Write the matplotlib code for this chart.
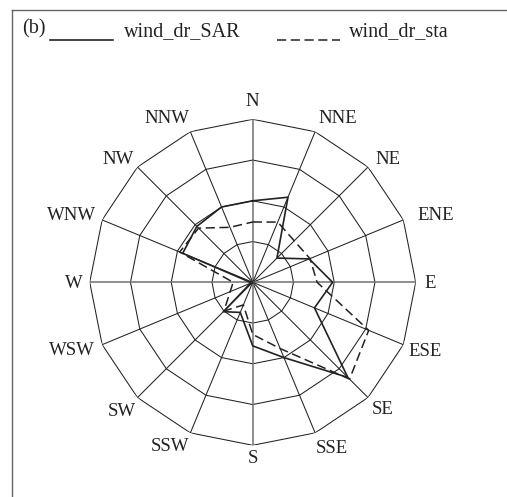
"""wind direction radar plot (b)"""

import numpy as np
import matplotlib
matplotlib.use("Agg")
import matplotlib.pyplot as plt
from matplotlib.lines import Line2D

plt.rcParams['font.family'] = ['Liberation Serif', 'DejaVu Serif']

directions = ['N', 'NNE', 'NE', 'ENE', 'E', 'ESE', 'SE', 'SSE',
              'S', 'SSW', 'SW', 'WSW', 'W', 'WNW', 'NW', 'NNW']
wind_dr_SAR = [10.0, 11.3, 4.2, 7.5, 9.8, 8.2, 16.5, 10.0,
               7.8, 4.0, 5.1, 0.3, 0.3, 9.3, 9.7, 10.0]
wind_dr_sta = [7.4, 8.0, 7.2, 7.6, 7.9, 15.4, 16.8, 8.8,
               6.4, 3.0, 5.0, 3.0, 2.4, 9.7, 9.4, 7.3]
rings = [5, 10, 15, 20]

# label shift (px) from the tip of each spoke, x right / y down
label_shift = [(0, -17.6), (23.2, -13.4), (19.7, -7.7), (32.7, -4.9),
               (14.3, 1.7), (21.7, 7.0), (14.7, 11.7), (16.6, 15.4),
               (0, 13.0), (-20.3, 13.8), (-15.7, 14.1), (-30.0, 6.0),
               (-15.5, 1.7), (-31.0, -4.9), (-19.1, -7.7), (-23.6, -13.4)]

ink = "#222222"
theta = np.deg2rad(np.arange(len(directions)) * 22.5)
theta_c = np.append(theta, theta[0])

fig = plt.figure(figsize=(5.07, 4.97), dpi=100)
ax = fig.add_axes([0.177, 0.104, 0.643, 0.656], projection="polar")
ax.set_theta_zero_location("N")
ax.set_theta_direction(-1)
ax.set_ylim(0, rings[-1])
ax.grid(False)
ax.set_xticks([])
ax.set_yticks([])
ax.spines["polar"].set_visible(False)
ax.patch.set_alpha(0)

# polygon grid and spokes
for r in rings:
    ax.plot(theta_c, np.full(theta_c.size, r), color=ink, lw=0.75, zorder=1)
for i, t in enumerate(theta):
    if i % 4 == 0:
        ax.plot([t, t], [0, rings[-1]], color="#707070", lw=1.1, zorder=1)
    else:
        ax.plot([t, t], [0, rings[-1]], color=ink, lw=0.75, zorder=1)

for t, name, (dx, dy) in zip(theta, directions, label_shift):
    ax.annotate(name, xy=(t, rings[-1]), xytext=(dx * 0.72, -dy * 0.72),
                textcoords="offset points", ha="center", va="center",
                fontsize=13.5, color=ink, annotation_clip=False)

ax.plot(theta_c, np.append(wind_dr_SAR, wind_dr_SAR[0]), color=ink, lw=1.2, zorder=3)
ax.plot(theta_c, np.append(wind_dr_sta, wind_dr_sta[0]), color=ink, lw=1.1,
        dashes=(6, 3), zorder=3)

# legend drawn by hand across the top
fig.add_artist(Line2D([50 / 507, 113 / 507], [1 - 40 / 497] * 2, color=ink, lw=1.2))
fig.text(124 / 507, 1 - 36 / 497, "wind_dr_SAR", fontsize=14.5, color=ink, va="baseline")
fig.add_artist(Line2D([277 / 507, 340 / 507], [1 - 40 / 497] * 2, color=ink, lw=1.1,
                      dashes=(6, 3)))
fig.text(349 / 507, 1 - 36 / 497, "wind_dr_sta", fontsize=14.5, color=ink, va="baseline")
fig.text(22 / 507, 1 - 33 / 497, "(b)", fontsize=14.5, color=ink, va="baseline")

# frame lines on top and left
fig.add_artist(Line2D([12 / 507, 1], [1 - 10 / 497] * 2, color="#666666", lw=1.0))
fig.add_artist(Line2D([12 / 507, 12 / 507], [0, 1 - 10 / 497], color="#666666", lw=1.0))

fig.savefig("out.png", dpi=100)
